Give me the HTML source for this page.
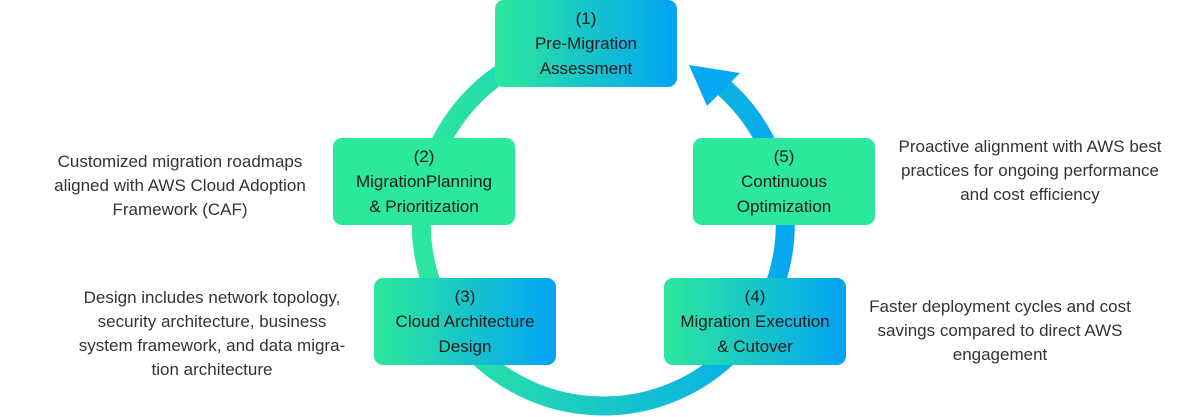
<!DOCTYPE html>
<html><head><meta charset="utf-8"><style>
body{margin:0;width:1200px;height:417px;background:#fff;position:relative;overflow:hidden;font-family:"Liberation Sans",sans-serif}
.b{position:absolute;width:182px;height:87px;border-radius:9px;display:flex;align-items:center;justify-content:center;text-align:center;font-size:17px;line-height:25px;color:#1a1a1a}
.g{background:linear-gradient(90deg,#2de89c,#03a3f5)}
.s{background:#2ce89c}
.t{position:absolute;font-size:17px;line-height:24px;color:#333;text-align:center;width:360px;margin-left:-180px}
svg{position:absolute;left:0;top:0}
</style></head><body>
<svg width="1200" height="417">
<defs><linearGradient id="lg" x1="420" y1="0" x2="800" y2="0" gradientUnits="userSpaceOnUse"><stop offset="0" stop-color="#2ce89c"/><stop offset="1" stop-color="#04a5f4"/></linearGradient></defs>
<path d="M 722 86 A 182 182 0 1 1 514 65.4" fill="none" stroke="url(#lg)" stroke-width="19"/>
<polygon points="689,65 740,73 707,106" fill="#05a8f2"/>
</svg>
<div class="b g" style="left:495px;top:0">(1)<br>Pre-Migration<br>Assessment</div>
<div class="b s" style="left:333px;top:138px">(2)<br>MigrationPlanning<br>&amp; Prioritization</div>
<div class="b s" style="left:693px;top:138px">(5)<br>Continuous<br>Optimization</div>
<div class="b g" style="left:374px;top:278px">(3)<br>Cloud Architecture<br>Design</div>
<div class="b g" style="left:664px;top:278px">(4)<br>Migration Execution<br>&amp; Cutover</div>
<div class="t" style="left:180px;top:150px">Customized migration roadmaps<br>aligned with AWS Cloud Adoption<br>Framework (CAF)</div>
<div class="t" style="left:1030px;top:135px">Proactive alignment with AWS best<br>practices for ongoing performance<br>and cost efficiency</div>
<div class="t" style="left:212px;top:286px">Design includes network topology,<br>security architecture, business<br>system framework, and data migra-<br>tion architecture</div>
<div class="t" style="left:1000px;top:295px">Faster deployment cycles and cost<br>savings compared to direct AWS<br>engagement</div>
</body></html>
